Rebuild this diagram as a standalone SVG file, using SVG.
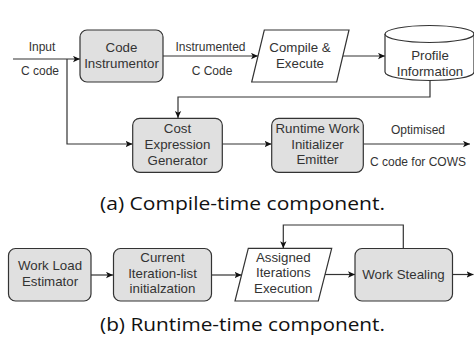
<svg xmlns="http://www.w3.org/2000/svg" width="474" height="348" viewBox="0 0 474 348">
<style>
.box{fill:#e0e0e0;stroke:#333;stroke-width:1.2}
.shape{fill:#fff;stroke:#333;stroke-width:1.2}
.t{font-family:"Liberation Sans",Arial,sans-serif;font-size:13.3px;fill:#333;text-anchor:middle}
.l{font-family:"Liberation Sans",Arial,sans-serif;font-size:12px;fill:#333;text-anchor:middle}
.cap{font-family:"Open Sans","Noto Sans",sans-serif;font-size:18px;fill:#111}
.c{fill:none;stroke:#333;stroke-width:1.2}
</style>
<defs>
<marker id="ah" viewBox="0 0 10 10" refX="10" refY="5" markerWidth="7" markerHeight="7" markerUnits="userSpaceOnUse" orient="auto">
<path d="M0,0.5 L10,5 L0,9.5 L2.5,5 Z" fill="#111"/>
</marker>
</defs>
<rect width="474" height="348" fill="#fff"/>

<g id="connectors">
<path class="c" d="M13,59 H80" marker-end="url(#ah)"/>
<path class="c" d="M67,59 V144 H132.5" marker-end="url(#ah)"/>
<path class="c" d="M163,56 H258" marker-end="url(#ah)"/>
<path class="c" d="M343,56 H385" marker-end="url(#ah)"/>
<path class="c" d="M430,80 V97 H178 V118" marker-end="url(#ah)"/>
<path class="c" d="M222,144 H271.5" marker-end="url(#ah)"/>
<path class="c" d="M363.5,144 H470" marker-end="url(#ah)"/>
<path class="c" d="M91,275 H113" marker-end="url(#ah)"/>
<path class="c" d="M211.5,275 H241.5" marker-end="url(#ah)"/>
<path class="c" d="M325,274.5 H355" marker-end="url(#ah)"/>
<path class="c" d="M452.5,274.5 H473.5" marker-end="url(#ah)"/>
<path class="c" d="M403.3,248.3 V225 H283.3 V248.3" marker-end="url(#ah)"/>
<text class="l" x="42" y="51">Input</text>
<text class="l" x="40" y="75">C code</text>
<text class="l" x="210.5" y="51">Instrumented</text>
<text class="l" x="212" y="75">C Code</text>
<text class="l" x="418" y="134">Optimised</text>
<text class="l" x="418" y="166">C code for COWS</text>
</g>

<g id="code-instrumentor">
<rect class="box" x="80" y="30" width="83" height="52" rx="7"/>
<text class="t" x="121.5" y="52">Code</text>
<text class="t" x="121.5" y="68">Instrumentor</text>
</g>

<g id="compile-execute">
<polygon class="shape" points="264.3,30 349,30 336.7,82 251.7,82"/>
<text class="t" x="300" y="52">Compile &amp;</text>
<text class="t" x="300" y="68">Execute</text>
</g>

<g id="profile-information">
<path class="shape" d="M385,34 V72 A44.5,8.5 0 0 0 474,72 V34 A44.5,8.5 0 0 0 385,34 Z"/>
<path class="shape" d="M385,34 A44.5,8.5 0 0 0 474,34" fill="none"/>
<text class="t" x="430" y="60">Profile</text>
<text class="t" x="430" y="76">Information</text>
</g>

<g id="cost-expression-generator">
<rect class="box" x="132.7" y="118.3" width="89.6" height="54" rx="7"/>
<text class="t" x="177.5" y="133">Cost</text>
<text class="t" x="177.5" y="149">Expression</text>
<text class="t" x="177.5" y="165">Generator</text>
</g>

<g id="runtime-work-initializer-emitter">
<rect class="box" x="271.7" y="118.3" width="91.6" height="54" rx="7"/>
<text class="t" x="317.5" y="133">Runtime Work</text>
<text class="t" x="317.5" y="148.5">Initializer</text>
<text class="t" x="317.5" y="164">Emitter</text>
</g>

<text class="cap" x="100" y="210" textLength="285" lengthAdjust="spacingAndGlyphs">(a) Compile-time component.</text>

<g id="work-load-estimator">
<rect class="box" x="8.5" y="248.5" width="82.5" height="52.5" rx="7"/>
<text class="t" x="50" y="270">Work Load</text>
<text class="t" x="50" y="286">Estimator</text>
</g>

<g id="current-iteration-list">
<rect class="box" x="113.5" y="248.5" width="98" height="52.5" rx="7"/>
<text class="t" x="162.5" y="261.7">Current</text>
<text class="t" x="162.5" y="277.7">Iteration-list</text>
<text class="t" x="162.5" y="293.3">initialzation</text>
</g>

<g id="assigned-iterations-execution">
<polygon class="shape" points="248.3,248.3 331.7,248.3 318.3,301 235,301"/>
<text class="t" x="283.3" y="261.7">Assigned</text>
<text class="t" x="283.3" y="277.3">Iterations</text>
<text class="t" x="283.3" y="293">Execution</text>
</g>

<g id="work-stealing">
<rect class="box" x="355" y="248.5" width="97.5" height="52.5" rx="7"/>
<text class="t" x="403.5" y="279">Work Stealing</text>
</g>

<text class="cap" x="100" y="331" textLength="285" lengthAdjust="spacingAndGlyphs">(b) Runtime-time component.</text>
</svg>
